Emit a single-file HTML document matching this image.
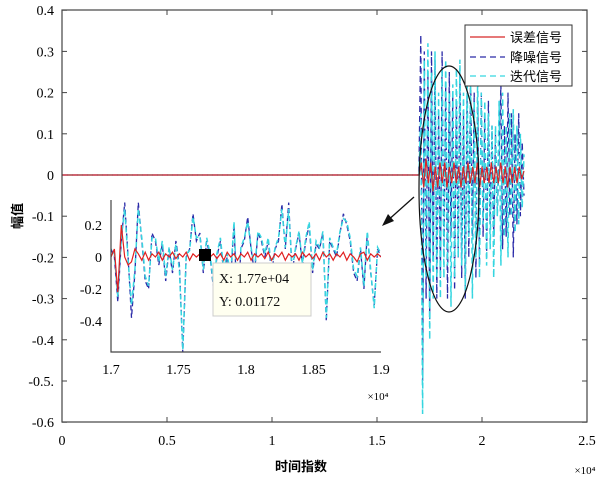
<!DOCTYPE html>
<html><head><meta charset="utf-8"><style>
html,body{margin:0;padding:0;background:#fff;}
svg{display:block;font-family:"Liberation Serif","Noto Serif CJK SC",serif;}
</style></head><body>
<svg id="chart" width="602" height="482" viewBox="0 0 602 482">
<rect x="0" y="0" width="602" height="482" fill="#fff"/>
<g id="main-ticks"></g>
<g id="main-series"></g>
<rect x="62" y="10" width="525" height="412" fill="none" stroke="#444" stroke-width="1.2"/>
<ellipse cx="449" cy="189" rx="30" ry="123" fill="none" stroke="#111" stroke-width="1.2"/>
<line x1="414" y1="197" x2="386" y2="222" stroke="#111" stroke-width="1.3"/>
<polygon points="382,226 388,214 394,221" fill="#111"/>
<g id="inset"></g>
<g>
<rect x="199" y="249" width="12" height="12" fill="#000"/>
<rect x="213" y="263" width="98" height="53" fill="#fffff0" stroke="#ccc"/>
<text x="219" y="283" font-size="14" fill="#111">X: 1.77e+04</text>
<text x="219" y="306" font-size="14" fill="#111">Y: 0.01172</text>
</g>
<g>
<rect x="465" y="25" width="107" height="61" fill="#fff" stroke="#333"/>
<line x1="470" y1="37" x2="505" y2="37" stroke="#d62728" stroke-width="1.3"/>
<text x="510" y="42" font-size="13" font-family="Liberation Sans,Noto Sans CJK SC,sans-serif">误差信号</text>
<line x1="470" y1="57" x2="505" y2="57" stroke="#2a2aa8" stroke-width="1.3" stroke-dasharray="6,4"/>
<text x="510" y="62" font-size="13" font-family="Liberation Sans,Noto Sans CJK SC,sans-serif">降噪信号</text>
<line x1="470" y1="76" x2="505" y2="76" stroke="#36d6e0" stroke-width="1.3" stroke-dasharray="6,4"/>
<text x="510" y="81" font-size="13" font-family="Liberation Sans,Noto Sans CJK SC,sans-serif">迭代信号</text>
</g>
<text x="301" y="471" font-size="13" text-anchor="middle" font-weight="bold" font-family="Liberation Sans,Noto Sans CJK SC,sans-serif">时间指数</text>
<text x="585" y="474" font-size="11" text-anchor="middle">×10⁴</text>
<text x="22" y="216" font-size="13" text-anchor="middle" font-weight="bold" transform="rotate(-90 22 216)" font-family="Liberation Sans,Noto Sans CJK SC,sans-serif">幅值</text>
</svg>
<script>
const xTicks=[0,0.5,1,1.5,2,2.5];
const xTickLabels=['0','0.5','1','1.5','2','2.5'];
const yTicks=[0.4,0.3,0.2,0.1,0,-0.1,-0.2,-0.3,-0.4,-0.5,-0.6];
const yTickLabels=['0.4','0.3','0.2','0.1','0','-0.1','-0.2','-0.3','-0.4','-0.5.','-0.6'];
const mainDenoised=[0.02,0.34,-0.5,0.3,-0.3,0.25,-0.35,0.3,-0.2,0.28,-0.3,0.15,-0.25,0.3,-0.2,0.22,-0.3,0.25,-0.15,0.2,-0.28,0.18,-0.2,0.25,-0.25,0.15,-0.3,0.2,-0.2,0.25,-0.15,0.2,-0.25,0.18,-0.22,0.2,-0.15,0.15,-0.2,0.18,-0.12,0.12,-0.15,0.1,-0.1,0.05,0.22,-0.18,0.12,-0.15,0.2,-0.1,0.15,-0.2,0.1,-0.12,0.15,-0.1,0.08,-0.05];
const mainIterative=[0.0,0.15,-0.58,0.28,-0.25,0.32,-0.4,0.25,-0.3,0.3,-0.25,0.2,-0.3,0.26,-0.25,0.28,-0.22,0.2,-0.32,0.22,-0.25,0.26,-0.2,0.28,-0.22,0.2,-0.28,0.25,-0.15,0.22,-0.3,0.18,-0.2,0.25,-0.25,0.2,-0.12,0.18,-0.22,0.15,-0.18,0.12,-0.25,0.12,-0.1,0.18,-0.22,0.2,-0.15,0.12,-0.2,0.15,-0.1,0.16,-0.14,0.12,-0.12,0.1,-0.08,0.05];
const mainError=[0.0,0.03,-0.03,0.04,-0.02,0.03,-0.04,0.02,-0.03,0.03,-0.02,0.03,-0.03,0.02,-0.02,0.03,-0.02,0.02,-0.03,0.02,-0.02,0.03,-0.02,0.02,-0.02,0.03,-0.03,0.02,-0.02,0.02,-0.02,0.03,-0.02,0.02,-0.02,0.03,-0.02,0.02,-0.03,0.02,-0.02,0.02,-0.02,0.02,-0.01,0.01];
const insetXTicks=[1.7,1.75,1.8,1.85,1.9];
const insetXLabels=['1.7','1.75','1.8','1.85','1.9'];
const insetYTicks=[0.2,0,-0.2,-0.4];
const insetYLabels=['0.2','0','-0.2','-0.4'];
const insetDenoised=[0.05,0.0,-0.28,0.1,0.34,0.0,-0.38,-0.1,0.34,0.1,-0.15,-0.2,0.15,0.1,-0.05,0.08,-0.15,0.05,-0.1,0.1,-0.05,-0.6,0.0,0.05,0.27,0.1,0.15,-0.1,0.1,0.0,-0.2,0.0,0.1,-0.1,0.0,-0.15,0.2,-0.35,0.05,0.1,0.25,0.05,-0.1,0.15,0.1,0.0,0.1,-0.1,0.05,0.1,0.33,0.05,0.34,-0.1,0.05,0.15,-0.05,0.1,0.2,-0.1,0.08,0.05,0.15,-0.4,0.1,0.05,0.0,0.15,0.27,0.2,0.1,-0.1,-0.15,0.05,-0.2,0.15,-0.1,-0.3,0.05,0.0];
const insetIterative=[0.05,0.02,-0.25,0.12,0.3,-0.02,-0.3,-0.08,0.3,0.12,-0.12,-0.18,0.12,0.12,-0.03,0.1,-0.12,0.06,-0.08,0.08,-0.08,-0.58,0.02,0.04,0.25,0.12,0.13,-0.08,0.12,0.02,-0.18,0.02,0.12,-0.08,0.02,-0.12,0.22,-0.3,0.06,0.12,0.22,0.06,-0.08,0.16,0.12,0.02,0.12,-0.08,0.06,0.12,0.3,0.06,0.3,-0.08,0.06,0.16,-0.04,0.12,0.22,-0.08,0.1,0.06,0.16,-0.38,0.12,0.06,0.02,0.16,0.24,0.22,0.12,-0.08,-0.12,0.06,-0.18,0.16,-0.08,-0.32,0.06,0.02];
const insetError=[0.0,0.05,-0.22,0.2,0.0,-0.05,-0.03,0.05,0.02,-0.02,0.03,-0.02,0.02,0.0,0.03,-0.02,0.02,0.0,0.03,-0.01,0.02,0.0,0.03,-0.02,0.02,0.0,0.02,-0.02,0.03,0.0,0.02,-0.01,0.02,-0.02,0.03,0.0,0.02,-0.02,0.02,0.0,0.03,-0.02,0.02,0.0,0.02,-0.01,0.03,-0.02,0.02,0.0,0.03,-0.02,0.02,0.0,0.02,-0.02,0.03,0.0,0.02,-0.01,0.02,-0.02,0.03,0.0,0.02,-0.02,0.02,0.0,0.03,-0.02,0.02,0.0,-0.03,0.02,0.03,-0.02,0.02,0.0,0.02,0.0];

const NS='http://www.w3.org/2000/svg';
const sx=v=>62+(v/2.5)*525;
const sy=v=>175-v*412;
const ix=v=>111+(v-1.7)/0.2*270;
const iy=v=>257-v*160;
function mk(tag,attrs,parent){const e=document.createElementNS(NS,tag);for(const k in attrs)e.setAttribute(k,attrs[k]);parent.appendChild(e);return e;}

const tg=document.getElementById('main-ticks');
xTicks.forEach((t,i)=>{
  const l=mk('line',{x1:sx(t),x2:sx(t),y1:422,y2:417,stroke:'#444'},tg);
  
  
  const l2=mk('line',{x1:sx(t),x2:sx(t),y1:10,y2:15,stroke:'#444'},tg);
  
  
  const tx=mk('text',{x:sx(t),y:445,'font-size':14,'text-anchor':'middle'},tg);
  tx.textContent=xTickLabels[i];
  
  
});
yTicks.forEach((t,i)=>{
  const l=mk('line',{x1:62,x2:67,y1:sy(t),y2:sy(t),stroke:'#444'},tg);
  
  
  const l2=mk('line',{x1:587,x2:582,y1:sy(t),y2:sy(t),stroke:'#444'},tg);
  
  
  const tx=mk('text',{x:54,y:sy(t)+5,'font-size':14,'text-anchor':'end'},tg);
  tx.textContent=yTickLabels[i];
  
  
});

function mainPath(arr){
  let d='M'+sx(0)+','+sy(0)+' L'+sx(1.7)+','+sy(0);
  arr.forEach((v,i)=>{d+=' L'+sx(1.7+0.5*i/(arr.length-1)).toFixed(1)+','+sy(v).toFixed(1);});
  return d;
}
const mg=document.getElementById('main-series');
const p2=mk('path',{d:mainPath(mainDenoised),fill:'none',stroke:'#2a2aa8','stroke-width':1.3,'stroke-dasharray':'6,4'},mg);


const p3=mk('path',{d:mainPath(mainIterative),fill:'none',stroke:'#36d6e0','stroke-width':1.5,'stroke-dasharray':'6,4','stroke-dashoffset':5},mg);


const p1=mk('path',{d:mainPath(mainError),fill:'none',stroke:'#d62728','stroke-width':1.2},mg);



const ig=document.getElementById('inset');
const bg=mk('rect',{x:111,y:200,width:270,height:152,fill:'#fff'},ig);


const defs=mk('defs',{},ig);
const cp=mk('clipPath',{id:'ic'},defs);
mk('rect',{x:111,y:200,width:270,height:152},cp);
function insetPath(arr){
  let d='';
  arr.forEach((v,i)=>{d+=(i?' L':'M')+ix(1.7+0.2*i/(arr.length-1)).toFixed(1)+','+iy(v).toFixed(1);});
  return d;
}
const cg=mk('g',{'clip-path':'url(#ic)'},ig);
const q1=mk('path',{d:insetPath(insetDenoised),fill:'none',stroke:'#2a2aa8','stroke-width':1.3,'stroke-dasharray':'5,3'},cg);


const q2=mk('path',{d:insetPath(insetIterative),fill:'none',stroke:'#36d6e0','stroke-width':1.5,'stroke-dasharray':'5,3','stroke-dashoffset':4},cg);


const q3=mk('path',{d:insetPath(insetError),fill:'none',stroke:'#e02020','stroke-width':1.2},cg);


const ax=mk('path',{d:'M111,200 L111,352 L381,352',fill:'none',stroke:'#444','stroke-width':1.2},ig);


insetXTicks.forEach((t,i)=>{
  const tx=mk('text',{x:ix(t),y:374,'font-size':14,'text-anchor':'middle'},ig);
  tx.textContent=insetXLabels[i];
  
  
});
insetYTicks.forEach((t,i)=>{
  const tx=mk('text',{x:102,y:iy(t)+5,'font-size':14,'text-anchor':'end'},ig);
  tx.textContent=insetYLabels[i];
  
  
});
const ex=mk('text',{x:378,y:400,'font-size':11,'text-anchor':'middle'},ig);
ex.textContent='×10⁴';


</script>
</body></html>
